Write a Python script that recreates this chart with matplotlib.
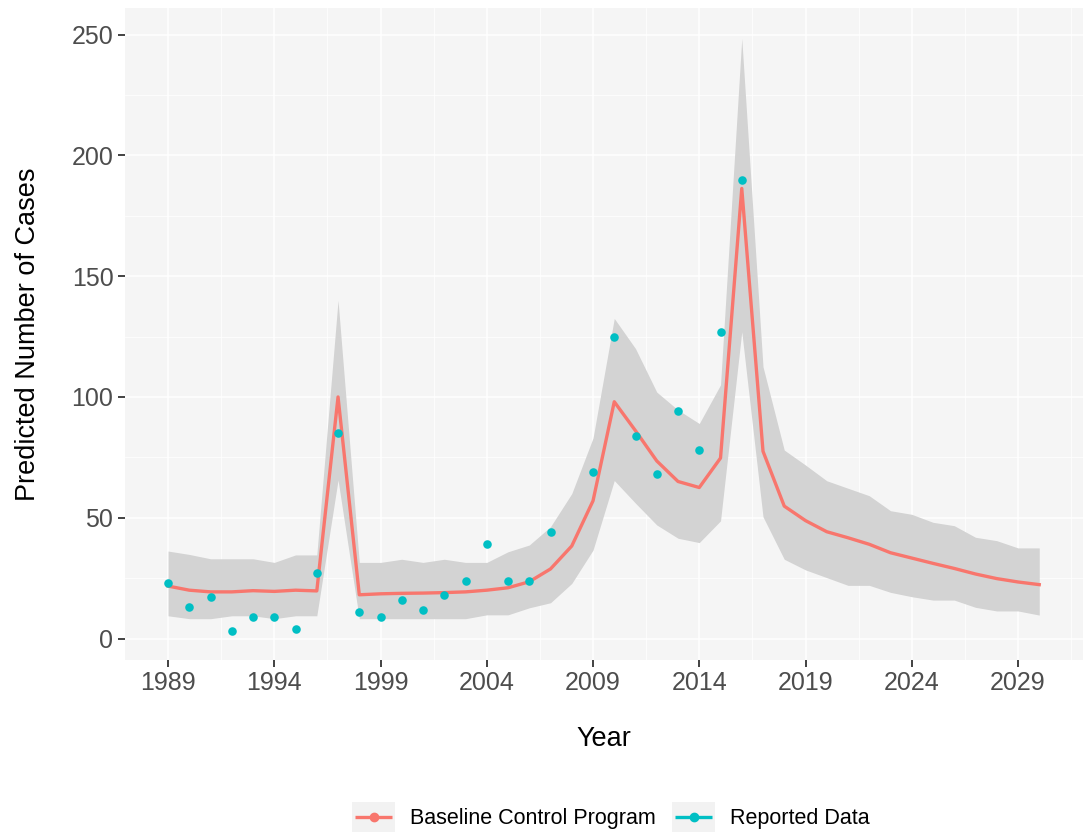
import matplotlib
matplotlib.use("Agg")
import matplotlib.pyplot as plt
from matplotlib.lines import Line2D
from matplotlib.patches import Rectangle
from matplotlib.legend_handler import HandlerBase

plt.rcParams['font.family'] = ['Liberation Sans', 'DejaVu Sans']

# Model years and outputs
years = list(range(1989, 2031))

baseline = [21.7, 20.0, 19.3, 19.3, 19.8, 19.5, 20.0, 19.7, 100.0, 18.1,
            18.5, 18.7, 18.8, 19.0, 19.3, 20.0, 21.0, 23.5, 28.8, 38.3,
            57.0, 98.0, 86.0, 73.5, 65.0, 62.5, 74.7, 186.3, 77.5, 54.8,
            48.8, 44.2, 41.7, 39.0, 35.5, 33.3, 31.1, 29.0, 26.7, 24.8,
            23.4, 22.3]

upper = [36.2, 34.8, 33.0, 33.0, 33.0, 31.5, 34.6, 34.6, 140.0, 31.5,
         31.5, 32.8, 31.5, 32.8, 31.5, 31.5, 35.9, 38.7, 46.3, 60.0,
         83.0, 132.5, 120.0, 102.0, 94.6, 89.0, 105.0, 248.4, 112.5, 78.0,
         71.8, 65.3, 62.2, 59.1, 52.9, 51.4, 48.1, 46.7, 41.9, 40.5,
         37.5, 37.5]

lower = [9.4, 8.2, 8.2, 9.4, 9.4, 8.2, 9.4, 9.4, 65.6, 8.2,
         8.2, 8.2, 8.2, 8.2, 8.2, 9.8, 9.8, 12.7, 14.8, 22.8,
         36.6, 65.4, 56.0, 47.0, 41.5, 39.7, 48.7, 127.0, 50.4, 32.8,
         28.4, 25.2, 22.0, 22.0, 19.1, 17.3, 15.9, 15.9, 12.9, 11.4,
         11.4, 9.7]

# Reported surveillance counts (no report for 2008)
reported_years = [1989, 1990, 1991, 1992, 1993, 1994, 1995, 1996, 1997, 1998,
                  1999, 2000, 2001, 2002, 2003, 2004, 2005, 2006, 2007,
                  2009, 2010, 2011, 2012, 2013, 2014, 2015, 2016]
reported = [23, 13, 17, 3, 9, 9, 4, 27, 85, 11,
            9, 16, 12, 18, 24, 39, 24, 24, 44,
            69, 125, 84, 68, 94, 78, 127, 190]

x_ticks = [1989, 1994, 1999, 2004, 2009, 2014, 2019, 2024, 2029]
y_ticks = [0, 50, 100, 150, 200, 250]

RED = "#F8766D"
TEAL = "#00BFC4"
BAND = "#D3D3D3"
PANEL = "#F5F5F5"
KEY_BG = "#F2F2F2"


class KeyHandler(HandlerBase):
    """ggplot-style legend key: grey square with a line and a dot."""

    def create_artists(self, legend, orig_handle, xdescent, ydescent,
                       width, height, fontsize, trans):
        c = orig_handle.get_color()
        x0, y0 = -xdescent, -ydescent
        ym = y0 + height / 2
        rect = Rectangle((x0, y0), width, height, facecolor=KEY_BG,
                         edgecolor='none', transform=trans)
        line = Line2D([x0 + 0.07 * width, x0 + 0.93 * width], [ym, ym],
                      color=c, linewidth=2.4, solid_capstyle='butt',
                      transform=trans)
        dot = Line2D([x0 + width / 2], [ym], marker='o', markersize=6,
                     color=c, linestyle='none', transform=trans)
        return [rect, line, dot]


fig = plt.figure(figsize=(10.84, 8.35), dpi=100)
W, H = 1084, 835
ax = fig.add_axes([124.5 / W, 1 - 660 / H, (1082.8 - 124.5) / W, (660 - 8) / H])
ax.set_facecolor(PANEL)
for s in ax.spines.values():
    s.set_visible(False)

ax.set_xticks(x_ticks)
ax.set_yticks(y_ticks)
ax.set_xticks([t + 2.5 for t in x_ticks], minor=True)
ax.set_yticks([t + 25 for t in y_ticks[:-1]], minor=True)
ax.set_xlim(1986.95, 2032.05)
ax.set_ylim(-8.9, 261.0)
ax.grid(which='major', color='white', linewidth=1.1)
ax.grid(which='minor', color='white', linewidth=0.55)
ax.set_axisbelow(True)
ax.tick_params(which='major', length=5, width=1.3, color='#333333',
               labelcolor='#4D4D4D', labelsize=18, pad=3)
ax.tick_params(which='minor', length=0)

ax.fill_between(years, lower, upper, color=BAND, linewidth=0, zorder=2)
line_base, = ax.plot(years, baseline, color=RED, linewidth=2.4, zorder=3)
ax.scatter(reported_years, reported, s=38, color=TEAL, linewidths=0, zorder=4)

ax.set_xlabel("Year", fontsize=19.5, labelpad=22)
ax.set_ylabel("Predicted Number of Cases", fontsize=19.5, labelpad=22)

h1 = Line2D([], [], color=RED)
h2 = Line2D([], [], color=TEAL)
fig.legend([h1, h2], ["Baseline Control Program", "Reported Data"],
           handler_map={Line2D: KeyHandler()},
           loc='center', bbox_to_anchor=(611 / W, 1 - 817 / H),
           ncol=2, frameon=False, fontsize=15.5,
           handlelength=2.0, handleheight=1.77, handletextpad=0.7,
           columnspacing=0.75, borderpad=0)

fig.savefig("out.png", dpi=100)
